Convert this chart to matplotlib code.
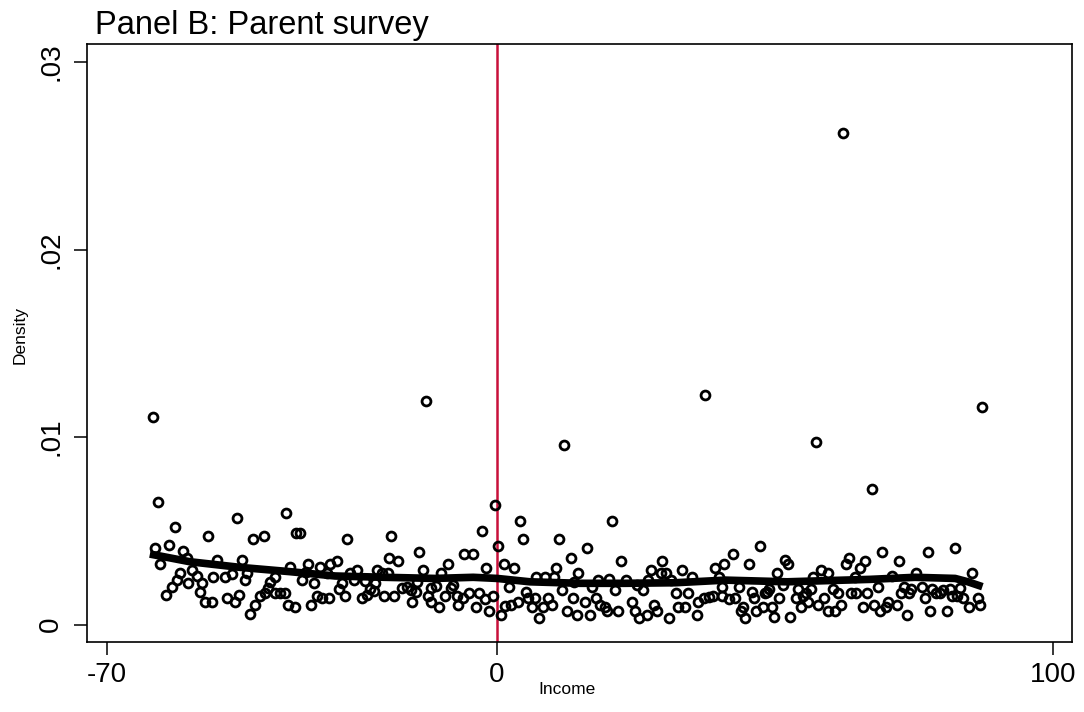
import numpy as np
import matplotlib
matplotlib.use("Agg")
import matplotlib.pyplot as plt

plt.rcParams['font.family'] = ['Liberation Sans', 'DejaVu Sans']

# bins: (income, density * 10^4)
bins_far_left = [
    (-61.7, 110.8), (-60.8, 65.5), (-57.8, 52.2), (-46.7, 57.0), (-37.9, 59.3), (-51.8, 47.2),
    (-43.7, 45.4), (-41.8, 47.2), (-61.3, 40.6), (-58.8, 42.4), (-56.4, 39.2), (-60.4, 32.3),
    (-55.7, 35.3), (-50.3, 34.4), (-45.8, 34.4), (-54.8, 29.1), (-56.8, 27.3), (-53.9, 25.9),
    (-50.9, 25.2), (-48.8, 25.2), (-47.6, 26.9), (-44.9, 27.6), (-45.2, 23.7), (-57.4, 23.7),
    (-55.4, 22.3), (-53.0, 22.3), (-58.3, 20.2), (-40.7, 22.8), (-39.8, 25.2), (-41.0, 19.3),
    (-41.6, 16.6), (-39.8, 17.0), (-38.9, 17.0), (-38.0, 17.0), (-59.4, 15.7), (-53.3, 17.5),
    (-52.4, 12.2), (-51.2, 12.2), (-48.4, 14.0), (-46.2, 15.7), (-47.0, 12.2), (-42.5, 15.2),
    (-43.4, 10.4), (-44.3, 5.4), (-37.5, 10.4), (-37.1, 30.7),
]
bins_left = [
    (-36.0, 48.6), (-35.3, 48.6), (-26.9, 45.4), (-19.0, 47.2), (-13.9, 38.8), (-19.3, 35.3),
    (-17.8, 34.0), (-28.7, 34.0), (-29.9, 32.3), (-33.8, 32.3), (-31.7, 30.5), (-34.3, 28.2),
    (-30.5, 27.6), (-26.3, 27.6), (-25.1, 29.1), (-21.4, 29.1), (-20.6, 27.6), (-19.6, 27.6),
    (-13.3, 29.1), (-34.9, 23.7), (-32.8, 22.3), (-27.8, 22.3), (-25.7, 23.7), (-23.6, 23.4),
    (-21.8, 22.3), (-14.3, 22.8), (-28.3, 18.8), (-22.7, 18.8), (-17.0, 19.3), (-16.1, 20.2),
    (-15.4, 18.4), (-11.7, 19.3), (-32.3, 15.2), (-31.4, 14.0), (-30.2, 14.0), (-27.2, 15.2),
    (-24.2, 14.0), (-23.2, 15.7), (-22.1, 18.0), (-20.3, 15.2), (-18.4, 15.2), (-14.5, 17.5),
    (-12.3, 15.2), (-15.2, 12.2), (-36.2, 9.2), (-33.3, 10.4), (-11.7, 12.2),
]
bins_cutoff = [
    (-12.7, 119.2), (-0.3, 63.7), (12.2, 95.7), (4.2, 55.2), (-2.7, 50.0), (4.8, 45.4),
    (11.3, 45.4), (0.3, 41.9), (-5.8, 37.4), (-4.3, 37.4), (13.3, 35.3), (-8.8, 32.3),
    (1.3, 32.3), (3.1, 30.3), (-1.9, 30.3), (10.7, 30.3), (-9.9, 27.6), (14.7, 27.6),
    (7.1, 25.2), (8.7, 25.2), (10.3, 25.2), (-10.8, 20.5), (-7.9, 21.1), (-8.2, 19.3),
    (2.3, 20.2), (11.7, 18.4), (13.9, 22.8), (-9.3, 15.2), (-7.2, 15.2), (-4.9, 16.6),
    (-6.0, 14.0), (-3.1, 17.0), (-0.7, 15.2), (-2.1, 13.4), (5.3, 17.5), (5.7, 14.0),
    (6.9, 14.0), (9.3, 14.0), (3.9, 12.2), (-6.9, 10.4), (-10.3, 9.2), (1.5, 9.9),
    (2.6, 10.4), (-3.7, 9.2), (-1.3, 7.4), (6.3, 9.2), (8.3, 9.2), (9.9, 10.4),
    (12.7, 7.4), (14.4, 5.1), (0.8, 5.1), (7.7, 3.3), (13.8, 14.0),
]
bins_right = [
    (37.4, 122.4), (20.7, 55.2), (16.2, 40.6), (22.4, 34.0), (29.8, 34.0), (27.8, 29.1),
    (29.6, 27.3), (30.4, 27.3), (33.3, 29.1), (39.3, 30.3), (40.8, 32.3), (35.1, 25.2),
    (18.3, 23.7), (20.2, 24.1), (23.2, 23.7), (27.2, 23.7), (31.4, 23.7), (40.0, 25.2),
    (17.2, 20.2), (21.3, 18.4), (25.2, 21.1), (26.4, 18.4), (32.2, 17.0), (34.4, 17.0),
    (40.5, 20.2), (40.5, 15.2), (17.8, 14.0), (15.8, 12.2), (18.6, 10.4), (19.4, 9.2),
    (19.8, 7.4), (24.3, 12.2), (28.2, 10.4), (28.8, 7.4), (32.6, 9.2), (33.9, 9.2),
    (36.2, 12.2), (37.2, 14.0), (38.1, 14.5), (38.8, 15.2), (16.8, 5.1), (21.8, 7.4),
    (24.8, 7.4), (25.6, 3.3), (27.0, 5.1), (30.9, 3.3), (36.0, 5.1),
]
bins_far_right = [
    (62.3, 262.1), (57.4, 97.5), (67.4, 72.1), (47.4, 41.9), (42.5, 37.4), (45.4, 32.3),
    (51.9, 34.4), (52.4, 32.3), (63.4, 35.3), (62.8, 32.3), (66.2, 34.0), (65.3, 30.0),
    (50.4, 27.3), (58.3, 29.1), (59.5, 27.6), (56.8, 25.5), (64.4, 25.5), (43.5, 19.8),
    (45.9, 17.5), (48.6, 17.5), (49.0, 18.8), (51.4, 21.1), (54.2, 18.8), (56.5, 18.8),
    (55.6, 17.0), (60.4, 18.8), (61.3, 17.0), (63.7, 17.0), (64.6, 17.0), (66.5, 17.0),
    (41.8, 13.4), (42.9, 14.0), (46.3, 14.0), (48.3, 16.6), (50.8, 14.0), (53.8, 14.0),
    (55.9, 12.2), (55.0, 15.2), (58.9, 14.0), (57.8, 10.4), (61.9, 10.4), (44.3, 9.2),
    (43.9, 7.4), (47.8, 9.2), (49.5, 9.2), (46.6, 7.4), (54.7, 9.2), (59.6, 7.4),
    (60.8, 7.4), (65.8, 9.2), (44.7, 3.3), (49.9, 3.8), (52.8, 3.8),
]
bins_top = [
    (87.3, 115.8), (69.3, 38.8), (77.5, 38.8), (82.3, 40.6), (72.3, 34.0), (75.3, 27.6),
    (85.4, 27.3), (71.0, 25.9), (68.5, 20.2), (73.3, 20.2), (72.7, 17.0), (74.5, 18.8),
    (74.1, 17.0), (76.5, 20.2), (78.2, 18.8), (78.9, 17.0), (79.7, 17.0), (80.3, 18.4),
    (81.5, 18.8), (81.9, 15.2), (82.7, 15.2), (83.3, 19.3), (76.9, 14.0), (83.9, 14.0),
    (86.5, 14.0), (86.9, 10.4), (84.9, 9.2), (67.9, 10.4), (68.9, 7.4), (70.0, 9.2),
    (70.4, 12.2), (71.9, 10.4), (73.7, 5.1), (77.9, 7.4), (80.9, 7.4),
]

# smoothed density
fit_income = [-62.3, -55.1, -46.1, -37.1, -29.0, -20.0, -11.1, -4.2, 0.1, 6.0,
              15.0, 23.1, 32.1, 41.1, 52.2, 67.1, 75.2, 82.4, 84.7, 87.3]
fit_density = [37.6, 33.5, 30.5, 28.2, 25.9, 25.2, 24.6, 25.2, 24.6, 22.8,
               22.0, 22.0, 22.3, 23.7, 22.8, 24.1, 25.2, 24.6, 22.8, 20.2]

all_bins = bins_far_left + bins_left + bins_cutoff + bins_right + bins_far_right + bins_top
income = np.array([b[0] for b in all_bins])
density = np.array([b[1] for b in all_bins]) * 1e-4

W, H = 1084, 712
fig = plt.figure(figsize=(W / 100, H / 100), dpi=100)
ax = fig.add_axes([87 / W, 1 - 642 / H, (1072 - 87) / W, (642 - 44) / H])

ax.axvline(0, color='#c8103a', lw=1.8, zorder=1)
ax.plot(income, density, 'o', ms=6.4, mfc='none', mec='black', mew=2.0, zorder=2)
ax.plot(fit_income, np.array(fit_density) * 1e-4, color='black', lw=5.5, zorder=3,
        solid_capstyle='butt')

ax.set_xlim(-73.6, 103.4)
ax.set_ylim(-0.00093, 0.03096)
ax.set_xticks([-70, 0, 100])
ax.set_xticklabels(['-70', '0', '100'])
ax.set_yticks([0, 0.01, 0.02, 0.03])
ax.set_yticklabels(['0', '.01', '.02', '.03'], rotation=90, va='center')
ax.tick_params(length=9.5, width=1.1, labelsize=20, color='black')
ax.tick_params(axis='x', pad=5)
ax.tick_params(axis='y', pad=7)
for s in ax.spines.values():
    s.set_linewidth(1.2)

fig.text(95 / W, 1 - 34 / H, 'Panel B: Parent survey', fontsize=23.5, va='baseline', ha='left')
fig.text(567 / W, 1 - 690 / H, 'Income', fontsize=12.5, va='center', ha='center')
fig.text(20 / W, 1 - 335 / H, 'Density', fontsize=12.5, va='center', ha='center', rotation=90)

fig.savefig('out.png', dpi=100)
